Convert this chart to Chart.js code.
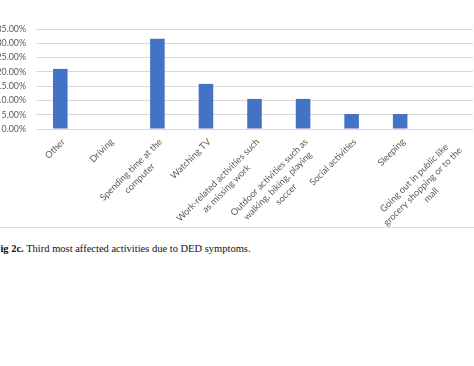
<!DOCTYPE html>
<html>
<head>
<meta charset="utf-8">
<script src="https://cdn.jsdelivr.net/npm/chart.js@4.4.0/dist/chart.umd.min.js"></script>
<style>
  html, body { margin: 0; padding: 0; background: #fff; overflow: hidden; }
  body { width: 474px; height: 366px; position: relative; }
  #wrap { position: absolute; left: -20px; top: 0; width: 494px; height: 227px; }
  #frame { position: absolute; left: 0; top: 227px; width: 474px; height: 1px; background: #dcdcdc; }
  #caption {
    position: absolute; left: -6px; top: 243px; white-space: nowrap;
    font-family: "Liberation Serif", "DejaVu Serif", serif; font-size: 10.5px; color: #111;
  }
</style>
</head>
<body>
<div id="wrap"><canvas id="chart"></canvas></div>
<div id="frame"></div>
<div id="caption"><b>Fig 2c.</b> Third most affected activities due to DED symptoms.</div>

<script>
// 카테고리 (줄바꿈 포함)
const categories = [
  ["Other"],
  ["Driving"],
  ["Spending time at the", "computer"],
  ["Watching TV"],
  ["Work-related activities such", "as missing work"],
  ["Outdoor activities such as", "walking, biking, playing", "soccer"],
  ["Social activities"],
  ["Sleeping"],
  ["Going out in public like", "grocery shopping or to the", "mall"],
];
const percentValues = [21.05, 0, 31.58, 15.79, 10.53, 10.53, 5.26, 5.26, 0];
const yTickValues = [0, 5, 10, 15, 20, 25, 30, 35];

const fontFamily = '"Lato", "Liberation Sans", sans-serif';
const textColor = "#595959";

// 엑셀처럼 45도 회전 + 가운데 정렬된 x축 라벨
const xLabelPlugin = {
  id: "xLabels",
  afterDraw(chart) {
    const { ctx, chartArea } = chart;
    const xScale = chart.scales.x;
    const lineH = 12;
    ctx.save();
    ctx.font = "9.2px " + fontFamily;
    ctx.fillStyle = textColor;
    ctx.textAlign = "center";
    ctx.textBaseline = "top";
    categories.forEach((lines, i) => {
      const x = xScale.getPixelForValue(i);
      const y = chartArea.bottom + 8;
      const w = Math.max(...lines.map((l) => ctx.measureText(l).width));
      ctx.save();
      ctx.translate(x, y);
      ctx.rotate(-Math.PI / 4);
      lines.forEach((l, j) => ctx.fillText(l, -w / 2, j * lineH));
      ctx.restore();
    });
    ctx.restore();
  },
};

const ctx = document.getElementById("chart").getContext("2d");
new Chart(ctx, {
  type: "bar",
  data: {
    labels: categories.map((l) => l.join(" ")),
    datasets: [
      {
        data: percentValues,
        backgroundColor: "#4472C4",
        borderWidth: 0,
        barPercentage: 0.3,
        categoryPercentage: 1,
      },
    ],
  },
  options: {
    responsive: true,
    maintainAspectRatio: false,
    animation: false,
    layout: { padding: { top: 29, right: 1, left: 0, bottom: 0 } },
    plugins: { legend: { display: false }, tooltip: { enabled: false } },
    scales: {
      x: {
        grid: { display: false },
        border: { display: false },
        ticks: { display: false },
        afterFit(scale) {
          scale.height = 98;
        },
      },
      y: {
        min: 0,
        max: 35,
        afterBuildTicks(scale) {
          scale.ticks = yTickValues.map((v) => ({ value: v }));
        },
        afterFit(scale) {
          scale.width = 56;
        },
        grid: { color: "#d9d9d9", drawTicks: false },
        border: { display: false },
        ticks: {
          padding: 10,
          color: textColor,
          font: { family: fontFamily, size: 8.8 },
          callback: (v) => v.toFixed(2) + "%",
        },
      },
    },
  },
  plugins: [xLabelPlugin],
});
</script>
</body>
</html>
